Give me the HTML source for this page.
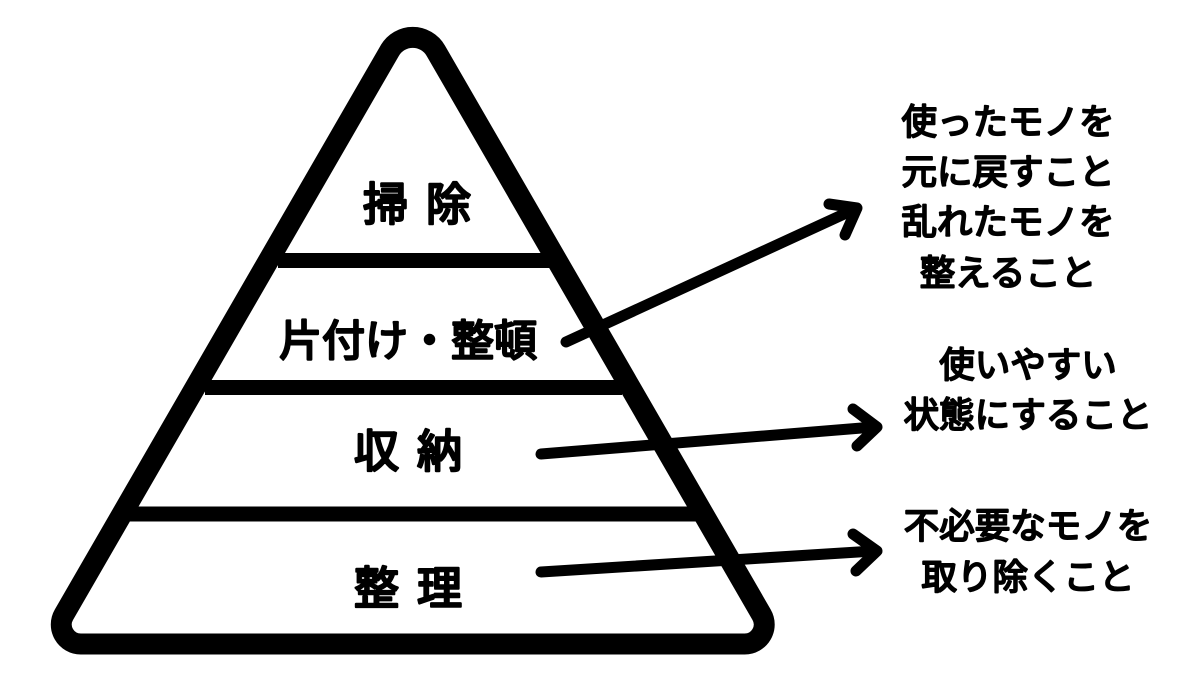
<!DOCTYPE html>
<html><head><meta charset="utf-8">
<style>
html,body{margin:0;padding:0;background:#fff;width:1200px;height:675px;overflow:hidden}
svg{display:block}
text{font-family:"Liberation Sans","Noto Sans CJK JP",sans-serif;font-weight:400;fill:#000;stroke:#000;stroke-linejoin:round;stroke-linecap:round;text-anchor:middle}
</style></head><body>
<svg width="1200" height="675" viewBox="0 0 1200 675" xmlns="http://www.w3.org/2000/svg">
<path d="M389.7 50.7 A26.6 26.6 0 0 1 435.8 50.7 L761.6 614.75 A19.5 19.5 0 0 1 744.7 644 L80.8 644 A19.5 19.5 0 0 1 63.9 614.75 Z" fill="none" stroke="#000" stroke-width="21" stroke-linejoin="round"/>
<g stroke="#000" stroke-width="15" fill="none">
<line x1="278" y1="260.5" x2="550" y2="260.5"/>
<line x1="205" y1="387.5" x2="622" y2="387.5"/>
<line x1="130" y1="514" x2="698" y2="514"/>
</g>
<g stroke="#000" stroke-width="11" fill="none" stroke-linecap="round" stroke-linejoin="round">
<line x1="566" y1="342" x2="855" y2="209"/>
<path d="M829 204 L857 208 L845 235"/>
<line x1="541" y1="454" x2="874" y2="427"/>
<path d="M853 409 L877 427 L857 446"/>
<line x1="541" y1="572" x2="874" y2="551"/>
<path d="M853 534 L877 551 L856 571"/>
</g>
<g font-size="45" stroke-width="2.6">
<text x="426" y="220" letter-spacing="18">掃除</text>
<text x="408" y="356" font-size="43" stroke-width="2.4">片付け・整頓</text>
<text x="417" y="467" letter-spacing="18">収納</text>
<text x="417" y="604" letter-spacing="18">整理</text>
</g>
<g font-size="35.5" stroke-width="2">
<text x="1008" y="134">使ったモノを</text>
<text x="1008" y="184">元に戻すこと</text>
<text x="1008" y="234">乱れたモノを</text>
<text x="1008" y="285">整えること</text>
<text x="1028" y="377">使いやすい</text>
<text x="1028" y="427">状態にすること</text>
<text x="1028" y="538">不必要なモノを</text>
<text x="1028" y="589">取り除くこと</text>
</g>
</svg>
</body></html>
